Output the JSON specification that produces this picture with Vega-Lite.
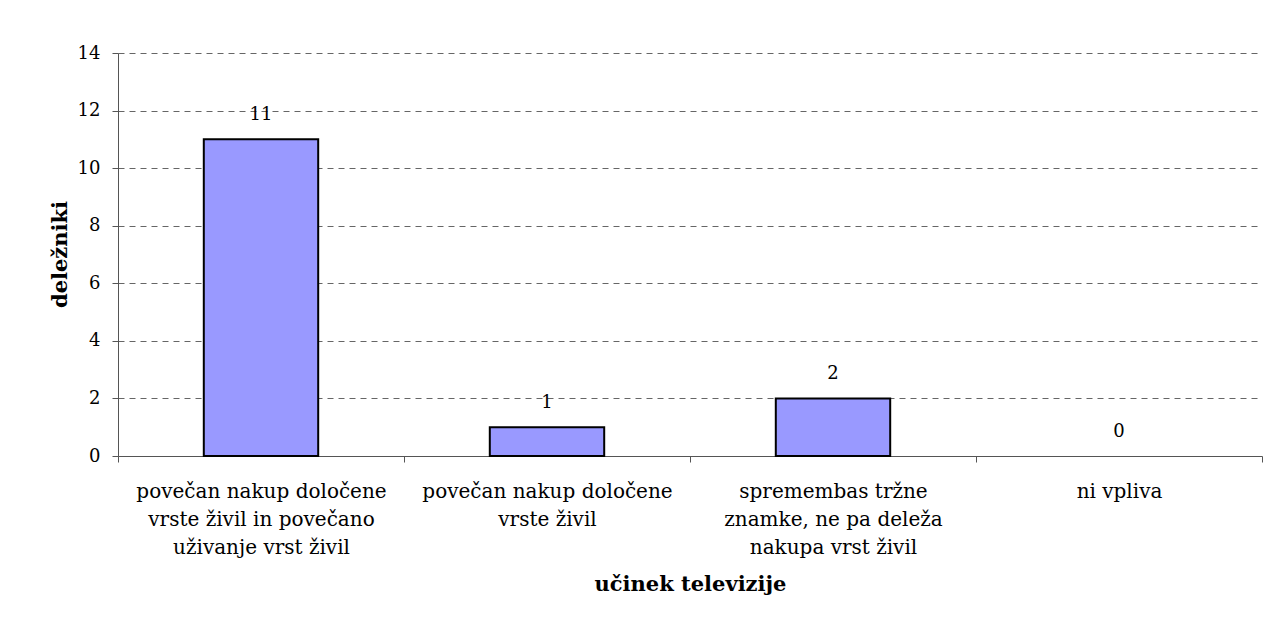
{
  "$schema": "https://vega.github.io/schema/vega-lite/v6.json",
  "width": 1144,
  "height": 403,
  "autosize": "none",
  "padding": {"left": 118, "top": 53, "right": 11, "bottom": 163},
  "background": "white",
  "data": {
    "values": [
      {"ucinek": "povečan nakup določene|vrste živil in povečano|uživanje vrst živil", "delezniki": 11},
      {"ucinek": "povečan nakup določene|vrste živil", "delezniki": 1},
      {"ucinek": "spremembas tržne|znamke, ne pa deleža|nakupa vrst živil", "delezniki": 2},
      {"ucinek": "ni vpliva", "delezniki": 0}
    ]
  },
  "encoding": {
    "x": {
      "field": "ucinek",
      "type": "nominal",
      "sort": null,
      "scale": {"paddingInner": 0, "paddingOuter": 0},
      "axis": {
        "title": "učinek televizije",
        "labelAngle": 0,
        "labelExpr": "split(datum.label, '|')",
        "labelFont": "DejaVu Serif",
        "labelFontSize": 20,
        "labelColor": "black",
        "labelLineHeight": 28,
        "labelPadding": 19,
        "labelLimit": 300,
        "tickBand": "extent",
        "tickSize": 6,
        "tickColor": "#555555",
        "domainColor": "#555555",
        "titleFont": "DejaVu Serif",
        "titleFontSize": 21,
        "titleFontWeight": "bold",
        "titleColor": "black",
        "titleY": 128,
        "titleBaseline": "middle"
      }
    },
    "y": {
      "field": "delezniki",
      "type": "quantitative",
      "scale": {"domain": [0, 14], "nice": false},
      "axis": {
        "title": "deležniki",
        "values": [0, 2, 4, 6, 8, 10, 12, 14],
        "labelFont": "DejaVu Serif",
        "labelFontSize": 18,
        "labelColor": "black",
        "labelPadding": 12,
        "tickSize": 6,
        "tickColor": "#555555",
        "domainColor": "#555555",
        "grid": true,
        "gridColor": "#666666",
        "gridDash": [6, 5],
        "gridWidth": 1,
        "titleFont": "DejaVu Serif",
        "titleFontSize": 21,
        "titleFontWeight": "bold",
        "titleColor": "black",
        "titleX": -58,
        "titleY": 201,
        "titleBaseline": "middle",
        "titleAngle": -90
      }
    }
  },
  "layer": [
    {
      "transform": [{"filter": "datum.delezniki > 0"}],
      "mark": {"type": "bar", "width": {"band": 0.4}, "fill": "#9999FF", "stroke": "black", "strokeWidth": 2}
    },
    {
      "mark": {"type": "text", "font": "DejaVu Serif", "fontSize": 18, "color": "black", "baseline": "middle", "dy": -24},
      "encoding": {"text": {"field": "delezniki", "type": "quantitative"}}
    }
  ],
  "config": {
    "view": {"stroke": null}
  }
}
